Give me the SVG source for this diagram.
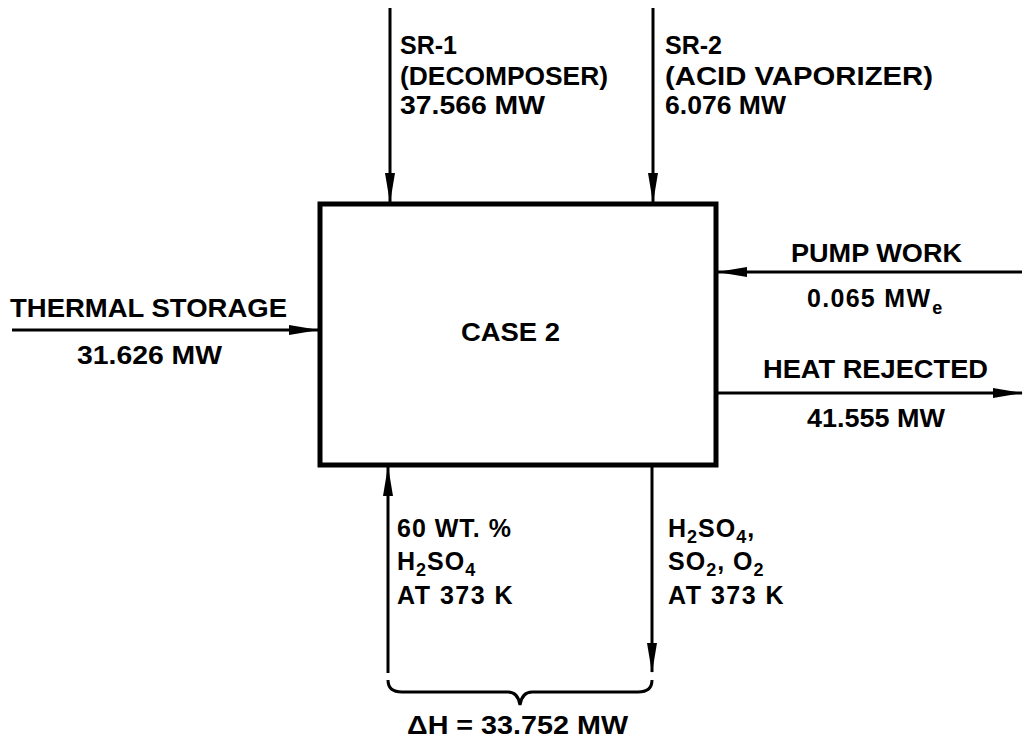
<svg xmlns="http://www.w3.org/2000/svg" width="1026" height="747" viewBox="0 0 1026 747">
<defs>
<style>
text{font-family:"Liberation Sans",Arial,sans-serif;font-weight:bold;font-size:25px;fill:#000}
.sub{font-size:18px}
.ln{stroke:#000;stroke-width:3;fill:none}
</style>
<marker id="ah" viewBox="0 0 30 10" refX="29" refY="5" markerWidth="30" markerHeight="10" markerUnits="userSpaceOnUse" orient="auto">
<path d="M0,0 L30,5 L0,10 z" fill="#000"/>
</marker>
</defs>
<rect width="1026" height="747" fill="#fff"/>
<g id="case2">
<rect x="320" y="204" width="396" height="261" fill="#fff" stroke="#000" stroke-width="5"/>
<text x="461" y="341" textLength="99" lengthAdjust="spacingAndGlyphs">CASE 2</text>
</g>
<g id="connectors">
<line class="ln" x1="390" y1="8" x2="390" y2="202" marker-end="url(#ah)"/>
<line class="ln" x1="653" y1="8" x2="653" y2="202" marker-end="url(#ah)"/>
<line class="ln" x1="12" y1="330" x2="318" y2="330" marker-end="url(#ah)"/>
<line class="ln" x1="1022" y1="272" x2="718" y2="272" marker-end="url(#ah)"/>
<line class="ln" x1="718" y1="393" x2="1022" y2="393" marker-end="url(#ah)"/>
<line class="ln" x1="388" y1="673" x2="388" y2="467" marker-end="url(#ah)"/>
<line class="ln" x1="652" y1="467" x2="652" y2="672" marker-end="url(#ah)"/>
<path class="ln" stroke-width="2.5" d="M388,680 Q388,692 402,692 L508,692 Q518,692 520,705 Q522,692 532,692 L638,692 Q652,692 652,680"/>
</g>
<g id="sr1">
<text x="400" y="54" textLength="57" lengthAdjust="spacingAndGlyphs">SR-1</text>
<text x="400" y="85" textLength="208" lengthAdjust="spacingAndGlyphs">(DECOMPOSER)</text>
<text x="400" y="114" textLength="145" lengthAdjust="spacingAndGlyphs">37.566 MW</text>
</g>
<g id="sr2">
<text x="665" y="54" textLength="57" lengthAdjust="spacingAndGlyphs">SR-2</text>
<text x="665" y="85" textLength="268" lengthAdjust="spacingAndGlyphs">(ACID VAPORIZER)</text>
<text x="665" y="114" textLength="121" lengthAdjust="spacingAndGlyphs">6.076 MW</text>
</g>
<g id="thermal-storage">
<text x="10" y="317" textLength="277" lengthAdjust="spacingAndGlyphs">THERMAL STORAGE</text>
<text x="77" y="364" textLength="145" lengthAdjust="spacingAndGlyphs">31.626 MW</text>
</g>
<g id="pump-work">
<text x="791" y="262" textLength="171" lengthAdjust="spacingAndGlyphs">PUMP WORK</text>
<text x="807" y="307" letter-spacing="1.3">0.065 MW<tspan class="sub" dx="1" dy="7">e</tspan></text>
</g>
<g id="heat-rejected">
<text x="763" y="378" textLength="225" lengthAdjust="spacingAndGlyphs">HEAT REJECTED</text>
<text x="807" y="427" textLength="138" lengthAdjust="spacingAndGlyphs">41.555 MW</text>
</g>
<g id="feed">
<text x="397" y="537" letter-spacing="1">60 WT. %</text>
<text x="397" y="570" letter-spacing="1">H<tspan class="sub" dy="6">2</tspan><tspan dy="-6">SO</tspan><tspan class="sub" dy="6">4</tspan></text>
<text x="397" y="604" letter-spacing="1.5">AT 373 K</text>
</g>
<g id="product">
<text x="668" y="537" letter-spacing="1">H<tspan class="sub" dy="6">2</tspan><tspan dy="-6">SO</tspan><tspan class="sub" dy="6">4</tspan><tspan dy="-6">,</tspan></text>
<text x="668" y="570" letter-spacing="1">SO<tspan class="sub" dy="6">2</tspan><tspan dy="-6">, O</tspan><tspan class="sub" dy="6">2</tspan></text>
<text x="668" y="604" letter-spacing="1.5">AT 373 K</text>
</g>
<g id="delta-h">
<text x="407" y="734" textLength="221" lengthAdjust="spacingAndGlyphs">ΔH = 33.752 MW</text>
</g>
</svg>
